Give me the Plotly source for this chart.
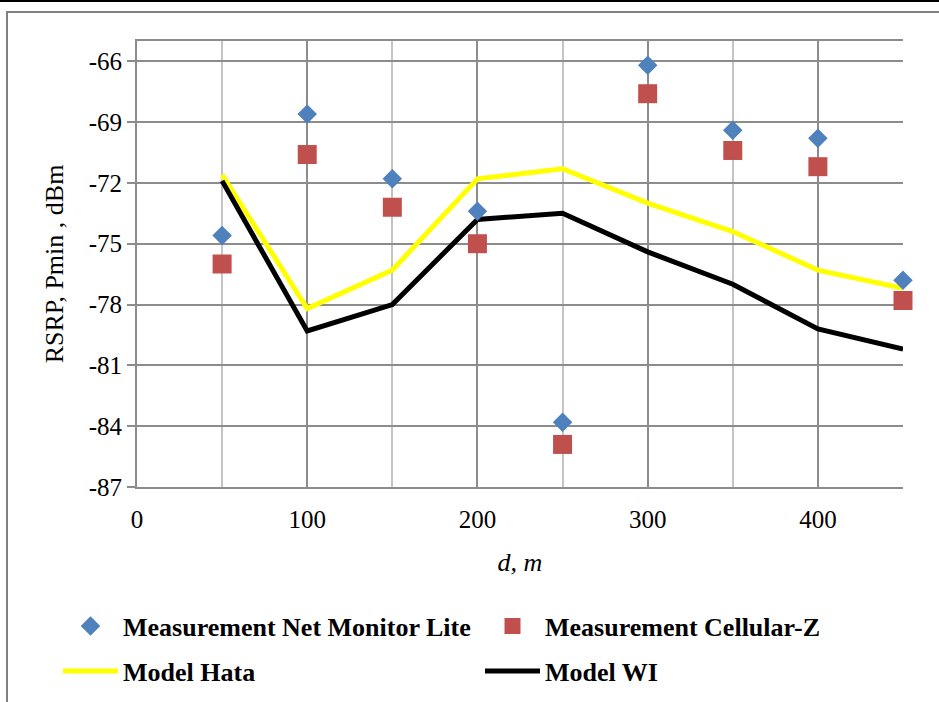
import plotly.graph_objects as go

d = [50, 100, 150, 200, 250, 300, 350, 400, 450]
net_monitor = [-74.6, -68.6, -71.8, -73.4, -83.8, -66.2, -69.4, -69.8, -76.8]
cellular_z = [-76.0, -70.6, -73.2, -75.0, -84.9, -67.6, -70.4, -71.2, -77.8]
hata = [-71.6, -78.2, -76.3, -71.8, -71.3, -73.0, -74.4, -76.3, -77.2]
wi = [-71.9, -79.3, -78.0, -73.8, -73.5, -75.4, -77.0, -79.2, -80.2]

y_tickvals = [-87, -84, -81, -78, -75, -72, -69, -66]
y_ticktext = ["-87", "-84", "-81", "-78", "-75", "-72", "-69", "-66"]
x_tickvals = [0, 100, 200, 300, 400]
x_ticktext = ["0", "100", "200", "300", "400"]

FONT = "Liberation Serif"

fig = go.Figure()
fig.add_trace(go.Scatter(x=d, y=hata, mode="lines", name="<b>Model Hata</b>",
                         line=dict(color="#FFFF00", width=5), legend="legend2",
                         cliponaxis=False))
fig.add_trace(go.Scatter(x=d, y=wi, mode="lines", name="<b>Model WI</b>",
                         line=dict(color="#000000", width=5), legend="legend2",
                         cliponaxis=False))
fig.add_trace(go.Scatter(x=d, y=net_monitor, mode="markers", name="<b>Measurement Net Monitor Lite</b>",
                         marker=dict(symbol="diamond", size=15, color="#4F81BD"), legend="legend",
                         cliponaxis=False))
fig.add_trace(go.Scatter(x=d, y=cellular_z, mode="markers", name="<b>Measurement Cellular-Z</b>",
                         marker=dict(symbol="square", size=19, color="#C0504D"), legend="legend",
                         cliponaxis=False))

W, H = 939, 702
L, R, T, B = 137, 36, 41, 215
pw, ph = W - L - R, H - T - B

def px_x(p):
    return (p - L) / pw

def px_y(p):
    return (H - B - p) / ph

fig.add_shape(type="rect", xref="paper", yref="paper",
              x0=px_x(7), x1=px_x(960), y0=px_y(720), y1=px_y(12),
              line=dict(color="#808080", width=2), layer="below")
fig.add_shape(type="line", xref="paper", yref="paper",
              x0=px_x(-10), x1=px_x(960), y0=px_y(1), y1=px_y(1),
              line=dict(color="#000000", width=2))

legend_common = dict(orientation="h", xanchor="left", yanchor="middle",
                     traceorder="normal", entrywidth=352, entrywidthmode="pixels",
                     itemwidth=55, font=dict(family=FONT, size=26, color="black"),
                     bgcolor="rgba(0,0,0,0)")

fig.update_layout(
    width=W, height=H,
    margin=dict(l=L, r=R, t=T, b=B, autoexpand=False),
    paper_bgcolor="white", plot_bgcolor="white",
    font=dict(family=FONT, size=25, color="black"),
    showlegend=True,
    legend=dict(x=px_x(58), y=px_y(626), **legend_common),
    legend2=dict(x=px_x(58), y=px_y(671), **legend_common),
    xaxis=dict(range=[0, 450], tickvals=x_tickvals, ticktext=x_ticktext, showgrid=True,
               gridcolor="#8C8C8C", gridwidth=2,
               minor=dict(dtick=50, tick0=0, showgrid=True, gridcolor="#C4C4C4", gridwidth=2),
               showline=True, linecolor="#8C8C8C", linewidth=2, mirror=True,
               ticks="outside", ticklen=9, tickcolor="rgba(0,0,0,0)", zeroline=False,
               automargin=False,
               title=dict(text="<i>d, m</i>", font=dict(family=FONT, size=26), standoff=21),
               tickfont=dict(family=FONT, size=25)),
    yaxis=dict(range=[-87, -65], tickvals=y_tickvals, ticktext=y_ticktext, showgrid=True,
               gridcolor="#8C8C8C", gridwidth=2,
               showline=True, linecolor="#8C8C8C", linewidth=2,
               ticks="outside", ticklen=8, tickcolor="#8C8C8C", tickwidth=2,
               zeroline=False, automargin=False,
               title=dict(text="RSRP, Pmin , dBm", font=dict(family=FONT, size=26), standoff=18),
               tickfont=dict(family=FONT, size=25)),
)

fig.write_html("out.html", config={"displayModeBar": False},
               post_script="document.body.style.margin='0';document.body.style.padding='0';")
